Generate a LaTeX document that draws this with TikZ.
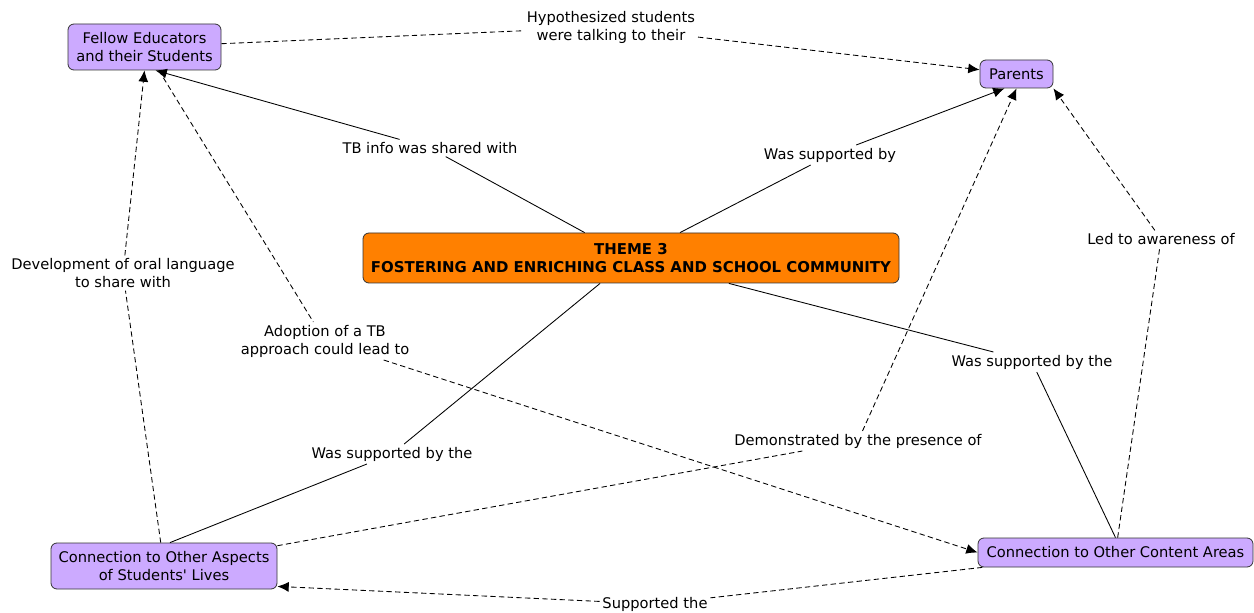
\documentclass[tikz,border=0pt]{standalone}
\usepackage{fontspec}
\setmainfont{DejaVu Sans}[Ligatures=TeXOff]
\usetikzlibrary{calc,arrows.meta}
\definecolor{conceptpurple}{RGB}{204,170,255}
\definecolor{themeorange}{RGB}{255,128,0}
\tikzset{>={Latex[length=8.5pt,width=7.5pt]},
    conceptbox/.style={draw=black!80, fill=conceptpurple, rounded corners=4.5pt, align=center, inner sep=0pt, line width=0.6pt},
    themebox/.style={conceptbox, fill=themeorange, font=\bfseries\fontsize{11.2}{13.5}\selectfont},
    linking/.style={align=center, inner sep=2pt},
    link/.style={line width=0.65pt},
    hint/.style={link, dash pattern=on 4pt off 2.5pt}}

\begin{document}
\begin{tikzpicture}[x=0.75pt, y=-0.75pt, font=\fontsize{11}{13.5}\selectfont]
    \useasboundingbox (0,0) rectangle (1254,613);
    \node[themebox, minimum width=402pt, minimum height=37.5pt] (theme) at (631,258) {THEME 3\\FOSTERING AND ENRICHING CLASS AND SCHOOL COMMUNITY};
    \node[conceptbox, minimum width=114.75pt, minimum height=34.5pt] (fellow) at (144.5,47) {Fellow Educators\\and their Students};
    \node[conceptbox, minimum width=54.75pt, minimum height=21pt] (parents) at (1016.5,74) {Parents};
    \node[conceptbox, minimum width=169.5pt, minimum height=34.5pt] (aspects) at (164,566) {Connection to Other Aspects\\of Students' Lives};
    \node[conceptbox, minimum width=206.25pt, minimum height=21.75pt] (content) at (1115.5,552.5) {Connection to Other Content Areas};
    \node[linking] (hyp) at (611,27) {Hypothesized students\\were talking to their};
    \node[linking] (shared) at (430,148) {TB info was shared with};
    \node[linking] (suppar) at (830,155) {Was supported by};
    \node[linking] (oral) at (123,273) {Development of oral language\\to share with};
    \node[linking] (adopt) at (325,341) {Adoption of a TB\\approach could lead to};
    \node[linking] (supasp) at (392,454) {Was supported by the};
    \node[linking] (supcon) at (1032,362) {Was supported by the};
    \node[linking] (demo) at (858,441) {Demonstrated by the presence of};
    \node[linking] (aware) at (1161,239) {Led to awareness of};
    \node[linking] (supthe) at (655,604) {Supported the};
    \draw[hint] (fellow) -- (hyp);
    \draw[hint, ->] (hyp) -- (parents);
    \draw[link] (theme) -- (shared);
    \draw[link, ->] (shared) -- ($(fellow.south)+(11,0)$);
    \draw[link] (theme) -- (suppar);
    \draw[link, ->] (suppar) -- ($(parents.south)+(-12,0)$);
    \draw[hint] (aspects) -- (oral);
    \draw[hint, ->] (oral) -- (fellow.south);
    \draw[hint] (fellow) -- (adopt);
    \draw[hint, ->] (adopt) -- (content.west);
    \draw[link] (theme) -- (supasp);
    \draw[link] (supasp) -- ($(aspects.north)+(6,0)$);
    \draw[link] (theme) -- (supcon);
    \draw[link] (supcon) -- (content.north);
    \draw[hint] (aspects) -- (demo);
    \draw[hint, ->] (demo) -- (parents.south);
    \draw[hint] (content) -- (aware);
    \draw[hint, ->] (aware) -- (parents.south east);
    \draw[hint] (content) -- (supthe);
    \draw[hint, ->] (supthe) -- ($(aspects.south east)+(0,-3)$);
\end{tikzpicture}
\end{document}
